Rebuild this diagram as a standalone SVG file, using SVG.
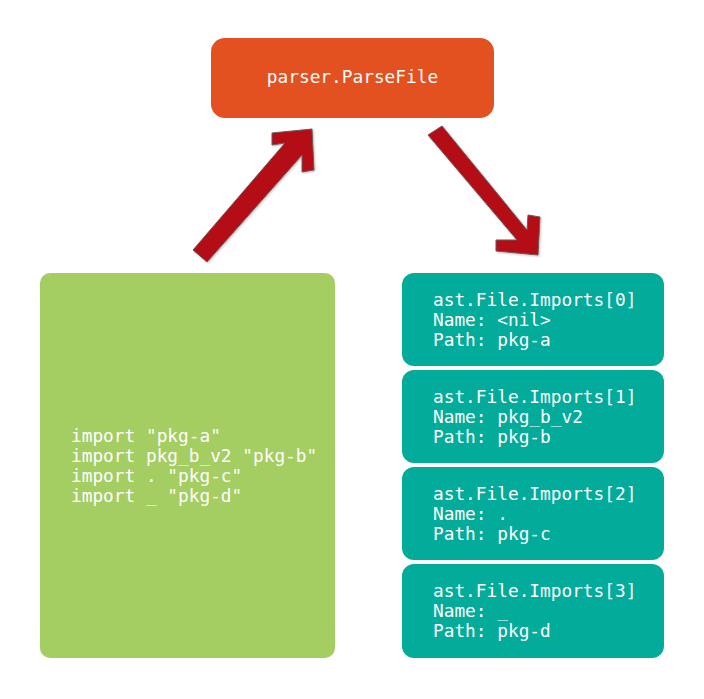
<svg xmlns="http://www.w3.org/2000/svg" width="704" height="699" viewBox="0 0 704 699">
<defs>
<style>
.mono{font-family:"DejaVu Sans Mono","Liberation Mono",monospace;font-size:17.8px;fill:#ffffff;}
.teal{fill:#02ab9a;}
.arrow{fill:#b40818;stroke:#6e5a5a;stroke-width:1;stroke-linejoin:miter;}
</style>
<filter id="sh" x="-20%" y="-20%" width="140%" height="140%">
<feDropShadow dx="1" dy="1" stdDeviation="1" flood-color="#000000" flood-opacity="0.25"/>
</filter>
</defs>
<rect width="704" height="699" fill="#ffffff"/>
<g id="parser">
<rect x="211" y="38" width="283" height="80" rx="14" fill="#e2511f"/>
<text class="mono" x="352.5" y="83" text-anchor="middle">parser.ParseFile</text>
</g>
<g id="source">
<rect x="40" y="273" width="295" height="385" rx="10" fill="#a4cd62"/>
<text class="mono" x="71" y="442">import "pkg-a"</text>
<text class="mono" x="71" y="462">import pkg_b_v2 "pkg-b"</text>
<text class="mono" x="71" y="482">import . "pkg-c"</text>
<text class="mono" x="71" y="502">import _ "pkg-d"</text>
</g>
<g id="imports0">
<rect class="teal" x="402" y="273" width="262" height="93" rx="12"/>
<text class="mono" x="433" y="306">ast.File.Imports[0]</text>
<text class="mono" x="433" y="326">Name: &lt;nil&gt;</text>
<text class="mono" x="433" y="346">Path: pkg-a</text>
</g>
<g id="imports1">
<rect class="teal" x="402" y="370" width="262" height="93" rx="12"/>
<text class="mono" x="433" y="403">ast.File.Imports[1]</text>
<text class="mono" x="433" y="423">Name: pkg_b_v2</text>
<text class="mono" x="433" y="443">Path: pkg-b</text>
</g>
<g id="imports2">
<rect class="teal" x="402" y="467" width="262" height="93" rx="12"/>
<text class="mono" x="433" y="500">ast.File.Imports[2]</text>
<text class="mono" x="433" y="520">Name: .</text>
<text class="mono" x="433" y="540">Path: pkg-c</text>
</g>
<g id="imports3">
<rect class="teal" x="402" y="564" width="262" height="94" rx="12"/>
<text class="mono" x="433" y="597">ast.File.Imports[3]</text>
<text class="mono" x="433" y="617">Name: _</text>
<text class="mono" x="433" y="637">Path: pkg-d</text>
</g>
<g id="connectors" filter="url(#sh)">
<polygon class="arrow" points="193,250 285,143 272,145 272,133 312,129 314,170 302,172 302,155 207,262"/>
<polygon class="arrow" points="428,135 517,240 496,240 496,251 538,255 540,217 528,215 527,230 442,126"/>
</g>
</svg>
